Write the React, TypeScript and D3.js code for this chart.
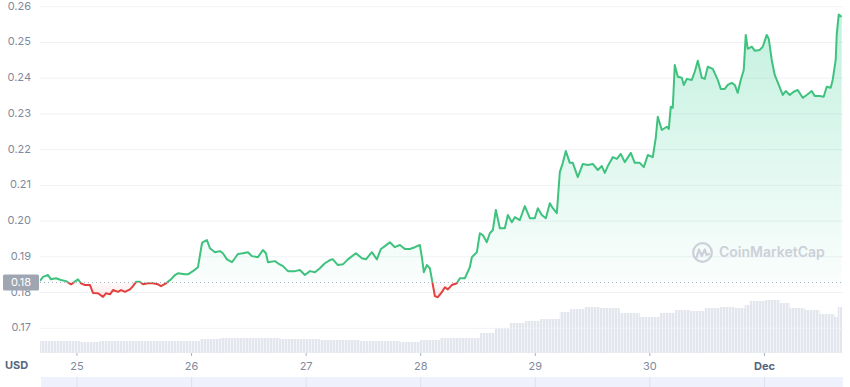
import React, { useEffect, useRef } from 'react';
import * as d3 from 'd3';

// hours since Nov 24 00:00 UTC
const priceHours = [
  16.25, 16.88, 17.93, 18.56, 19.6, 20.65, 21.7, 22.75, 24.21, 24.84, 25.68, 26.72, 27.35, 28.4, 29.44, 30.07,
  30.91, 31.54, 32.59, 33.21, 34.05, 35.1, 35.73, 36.35, 37.19, 37.82, 38.87, 39.91, 40.96, 41.59, 42.64, 43.68,
  44.52, 45.15, 46.61, 47.24, 48.29, 49.34, 50.18, 50.38, 51.22, 51.85, 52.9, 53.94, 54.57, 55.41, 56.46, 57.08,
  57.71, 58.76, 59.81, 60.64, 61.9, 62.95, 63.58, 64.0, 65.46, 66.09, 67.14, 68.18, 69.65, 70.7, 71.74, 72.79,
  73.84, 74.88, 75.93, 76.98, 77.61, 78.65, 79.7, 80.75, 82.42, 83.68, 84.52, 85.77, 86.82, 87.66, 88.5, 89.54,
  90.59, 91.64, 92.68, 93.73, 94.78, 95.82, 96.24, 96.66, 97.29, 97.92, 98.55, 98.97, 99.59, 100.43, 101.06, 101.69,
  102.52, 103.57, 104.2, 105.25, 106.29, 106.71, 107.76, 108.39, 109.02, 109.85, 110.48, 111.11, 111.74, 112.58, 113.62, 114.25,
  115.09, 115.72, 116.76, 117.81, 118.86, 119.9, 120.53, 121.37, 122.21, 123.05, 123.67, 124.51, 125.14, 125.77, 126.4, 127.23,
  127.86, 128.91, 129.96, 131.0, 132.05, 133.1, 133.94, 134.56, 135.19, 136.24, 137.08, 137.91, 138.75, 140.01, 140.85, 141.89,
  142.73, 143.57, 144.61, 145.24, 145.66, 146.5, 147.55, 147.97, 148.38, 148.8, 149.22, 149.85, 150.69, 151.11, 151.74, 152.78,
  153.41, 154.04, 154.88, 155.51, 156.13, 157.18, 158.23, 158.86, 159.69, 160.32, 161.16, 161.79, 162.41, 163.04, 163.67, 164.09,
  164.51, 165.35, 165.97, 167.02, 167.65, 168.49, 168.91, 169.53, 170.16, 171.0, 171.84, 172.47, 173.3, 174.14, 174.98, 176.02,
  176.86, 177.91, 178.54, 179.58, 180.42, 181.05, 181.88, 182.3, 182.93, 183.14, 183.56, 184.19,
];
const prices = [
  0.1833, 0.1844, 0.1849, 0.1837, 0.184, 0.1835, 0.1832, 0.1823, 0.1837, 0.1826, 0.1821, 0.1821, 0.1799, 0.1798, 0.1788, 0.1798,
  0.1795, 0.1807, 0.1802, 0.1807, 0.1802, 0.1809, 0.1818, 0.183, 0.183, 0.1823, 0.1826, 0.1826, 0.1823, 0.1818, 0.1826, 0.1837,
  0.1849, 0.1854, 0.1851, 0.1851, 0.186, 0.1871, 0.1938, 0.1941, 0.1947, 0.1924, 0.1913, 0.1916, 0.191, 0.1893, 0.1885, 0.1896,
  0.1908, 0.191, 0.1913, 0.1902, 0.1899, 0.1919, 0.191, 0.1885, 0.1888, 0.1882, 0.1874, 0.186, 0.186, 0.1863, 0.1849, 0.186,
  0.1857, 0.1868, 0.1882, 0.1891, 0.1893, 0.1877, 0.1879, 0.1893, 0.191, 0.1896, 0.1893, 0.1913, 0.1893, 0.1922, 0.193, 0.1941,
  0.1927, 0.1933, 0.1922, 0.1922, 0.1927, 0.1933, 0.1899, 0.1857, 0.1877, 0.1868, 0.1821, 0.179, 0.1787, 0.1801, 0.1815, 0.1809,
  0.1821, 0.1826, 0.184, 0.184, 0.1871, 0.1899, 0.1913, 0.1966, 0.1961, 0.1941, 0.1966, 0.1975, 0.2031, 0.198, 0.198, 0.2017,
  0.1997, 0.2011, 0.2003, 0.2042, 0.2008, 0.2008, 0.2036, 0.2017, 0.2008, 0.205, 0.2036, 0.2022, 0.2137, 0.2163, 0.2196, 0.2163,
  0.2163, 0.2123, 0.216, 0.2157, 0.216, 0.2143, 0.2154, 0.2135, 0.2154, 0.2179, 0.2174, 0.2188, 0.2165, 0.2191, 0.2163, 0.2163,
  0.2151, 0.2185, 0.2179, 0.2233, 0.2292, 0.2255, 0.2264, 0.2258, 0.232, 0.2317, 0.2437, 0.2404, 0.2401, 0.2381, 0.2398, 0.2395,
  0.2418, 0.2449, 0.2401, 0.2398, 0.2432, 0.2426, 0.2395, 0.237, 0.237, 0.2381, 0.2387, 0.2381, 0.2359, 0.2395, 0.2423, 0.2521,
  0.2482, 0.2488, 0.2477, 0.2479, 0.2488, 0.2521, 0.251, 0.2451, 0.2409, 0.2381, 0.2353, 0.2364, 0.2353, 0.2362, 0.2367, 0.2345,
  0.2353, 0.2364, 0.235, 0.235, 0.2348, 0.2376, 0.2373, 0.2395, 0.2451, 0.2521, 0.2578, 0.2572,
];

// 24h volume samples, USD millions
const volumeHours = [
  16.25, 20.44, 24.63, 28.82, 33.0, 37.19, 41.38, 45.57, 49.76, 53.94, 58.13, 62.32, 66.51, 70.7, 74.88, 79.07,
  83.26, 87.45, 91.64, 95.82, 100.01, 104.2, 106.29, 108.39, 111.53, 114.67, 117.81, 120.96, 124.1, 125.14, 127.23, 130.37,
  133.52, 137.7, 141.89, 145.03, 146.08, 149.22, 152.36, 155.5, 158.64, 161.79, 163.88, 164.93, 168.07, 171.21, 173.3, 176.45,
  179.59, 182.73, 183.35, 184.25,
];
const volumes = [
  18, 18, 16.5, 18, 18, 18, 18, 18, 21, 22.5, 22.5, 22.5, 21, 21, 19.5, 19.5,
  18, 18, 16.5, 19.5, 22.5, 22.5, 22.5, 30, 37.5, 45, 48, 51, 51, 61.5, 66, 69,
  67.5, 60, 54, 54, 60, 64.5, 63, 67.5, 69, 67.5, 72, 78, 79.5, 75, 67.5, 64.5,
  58.5, 54, 69, 69,
];

const yTicks = [0.17, 0.18, 0.19, 0.2, 0.21, 0.22, 0.23, 0.24, 0.25, 0.26];
const dayTickHours = [24, 48, 72, 96, 120, 144, 168];
const dayTickLabels = ['25', '26', '27', '28', '29', '30', 'Dec'];
const baselinePrice = 0.1828;
const startHour = 16.25;
const endHour = 184.25;

const toDate = (h: number) => new Date(Date.UTC(2021, 10, 24) + h * 3600 * 1000);

const App = () => {
  const svgRef = useRef<SVGSVGElement>(null);

  useEffect(() => {
    const svg = d3.select(svgRef.current);
    svg.selectAll('*').remove();

    const left = 40;
    const right = 843;
    const font = 'Inter, "Noto Sans", sans-serif';
    const green = '#3ec27e';
    const red = '#e2403f';

    const x = d3.scaleUtc()
      .domain([toDate(startHour), toDate(endHour)])
      .range([left, 842]);

    const y = d3.scaleLinear()
      .domain([0.17, 0.26])
      .range([328.3, 6.7]);

    const yVol = d3.scaleLinear()
      .domain([0, d3.max(volumes) as number])
      .range([353, 300]);

    const baseY = y(baselinePrice);
    const data = priceHours.map((h, i) => ({ t: toDate(h), v: prices[i] }));
    const volData = volumeHours.map((h, i) => ({ t: toDate(h), v: volumes[i] }));

    const defs = svg.append('defs');

    // volume bars look: thin stripes
    const pat = defs.append('pattern')
      .attr('id', 'volStripes')
      .attr('patternUnits', 'userSpaceOnUse')
      .attr('width', 3)
      .attr('height', 10);
    pat.append('rect').attr('width', 3).attr('height', 10).attr('fill', '#f3f4f8');
    pat.append('rect').attr('width', 2).attr('height', 10).attr('fill', '#e4e6ee');

    const gGreen = defs.append('linearGradient')
      .attr('id', 'greenFill')
      .attr('gradientUnits', 'userSpaceOnUse')
      .attr('x1', 0).attr('x2', 0)
      .attr('y1', y(d3.max(prices) as number)).attr('y2', baseY);
    gGreen.append('stop').attr('offset', '0%').attr('stop-color', '#16c784').attr('stop-opacity', 0.26);
    gGreen.append('stop').attr('offset', '100%').attr('stop-color', '#16c784').attr('stop-opacity', 0.02);

    const gRed = defs.append('linearGradient')
      .attr('id', 'redFill')
      .attr('gradientUnits', 'userSpaceOnUse')
      .attr('x1', 0).attr('x2', 0)
      .attr('y1', baseY).attr('y2', y(d3.min(prices) as number));
    gRed.append('stop').attr('offset', '0%').attr('stop-color', '#ea3943').attr('stop-opacity', 0.02);
    gRed.append('stop').attr('offset', '100%').attr('stop-color', '#ea3943').attr('stop-opacity', 0.12);

    defs.append('clipPath').attr('id', 'aboveBase')
      .append('rect').attr('x', left).attr('y', 0).attr('width', right - left).attr('height', baseY);
    defs.append('clipPath').attr('id', 'belowBase')
      .append('rect').attr('x', left).attr('y', baseY).attr('width', right - left).attr('height', 387 - baseY);

    // Volume
    const volArea = d3.area<{ t: Date; v: number }>()
      .curve(d3.curveStepAfter)
      .x(d => x(d.t))
      .y0(353)
      .y1(d => yVol(d.v));

    svg.append('path')
      .datum(volData)
      .attr('fill', 'url(#volStripes)')
      .attr('d', volArea);

    // Grid lines
    svg.append('g')
      .selectAll('line')
      .data(yTicks)
      .enter().append('line')
      .attr('x1', left)
      .attr('x2', right)
      .attr('y1', d => y(d))
      .attr('y2', d => y(d))
      .attr('stroke', '#eff2f5')
      .attr('stroke-width', 1);

    // Area fills
    const area = d3.area<{ t: Date; v: number }>()
      .x(d => x(d.t))
      .y0(baseY)
      .y1(d => y(d.v));

    svg.append('path').datum(data)
      .attr('fill', 'url(#greenFill)')
      .attr('clip-path', 'url(#aboveBase)')
      .attr('d', area);
    svg.append('path').datum(data)
      .attr('fill', 'url(#redFill)')
      .attr('clip-path', 'url(#belowBase)')
      .attr('d', area);

    // Baseline dotted
    svg.append('line')
      .attr('x1', left)
      .attr('x2', right)
      .attr('y1', baseY)
      .attr('y2', baseY)
      .attr('stroke', '#a6b0c3')
      .attr('stroke-width', 1)
      .attr('stroke-dasharray', '1,3');

    // Price line
    const line = d3.line<{ t: Date; v: number }>()
      .x(d => x(d.t))
      .y(d => y(d.v));

    svg.append('path').datum(data)
      .attr('fill', 'none')
      .attr('stroke', green)
      .attr('stroke-width', 2)
      .attr('stroke-linejoin', 'round')
      .attr('clip-path', 'url(#aboveBase)')
      .attr('d', line);
    svg.append('path').datum(data)
      .attr('fill', 'none')
      .attr('stroke', red)
      .attr('stroke-width', 2)
      .attr('stroke-linejoin', 'round')
      .attr('clip-path', 'url(#belowBase)')
      .attr('d', line);

    // Watermark
    const wm = svg.append('g').attr('opacity', 0.9);
    wm.append('circle')
      .attr('cx', 702.5).attr('cy', 252.5).attr('r', 9.3)
      .attr('fill', 'none')
      .attr('stroke', '#c7ccd6')
      .attr('stroke-width', 2.2);
    wm.append('path')
      .attr('d', 'M696.5,257.5 L699,249.5 L701.8,256 L704.8,249.5 L706.5,255 L709,254')
      .attr('fill', 'none')
      .attr('stroke', '#c7ccd6')
      .attr('stroke-width', 2.2)
      .attr('stroke-linejoin', 'round')
      .attr('stroke-linecap', 'round');
    wm.append('text')
      .attr('x', 719)
      .attr('y', 253.5)
      .attr('dominant-baseline', 'middle')
      .attr('font-family', font)
      .attr('font-size', 14)
      .attr('font-weight', 600)
      .attr('fill', '#c7ccd6')
      .text('CoinMarketCap');

    // Y axis labels
    svg.append('g')
      .selectAll('text')
      .data(yTicks)
      .enter().append('text')
      .attr('x', 31)
      .attr('y', d => y(d))
      .attr('text-anchor', 'end')
      .attr('dominant-baseline', 'middle')
      .attr('font-family', font)
      .attr('font-size', 11)
      .attr('fill', '#808a9d')
      .text(d => d.toFixed(2));

    // Baseline label box
    svg.append('rect')
      .attr('x', 3)
      .attr('y', baseY - 8)
      .attr('width', 36)
      .attr('height', 16)
      .attr('rx', 1.5)
      .attr('fill', '#a0a6b1');
    svg.append('text')
      .attr('x', 21)
      .attr('y', baseY)
      .attr('text-anchor', 'middle')
      .attr('dominant-baseline', 'middle')
      .attr('font-family', font)
      .attr('font-size', 11)
      .attr('fill', '#ffffff')
      .text(baselinePrice.toFixed(2));

    // X axis
    const xt = svg.append('g');
    dayTickHours.forEach((h, i) => {
      const px = x(toDate(h));
      xt.append('line')
        .attr('x1', px).attr('x2', px)
        .attr('y1', 353).attr('y2', 356)
        .attr('stroke', '#a6b0c3');
      xt.append('text')
        .attr('x', px)
        .attr('y', 367)
        .attr('text-anchor', 'middle')
        .attr('dominant-baseline', 'middle')
        .attr('font-family', font)
        .attr('font-size', 11)
        .attr('font-weight', dayTickLabels[i] === 'Dec' ? 700 : 400)
        .attr('fill', dayTickLabels[i] === 'Dec' ? '#58667e' : '#808a9d')
        .text(dayTickLabels[i]);
    });

    svg.append('text')
      .attr('x', 5)
      .attr('y', 366)
      .attr('dominant-baseline', 'middle')
      .attr('font-family', font)
      .attr('font-size', 11)
      .attr('font-weight', 700)
      .attr('fill', '#58667e')
      .text('USD');

    // Navigator strip
    svg.append('rect')
      .attr('x', 41)
      .attr('y', 377)
      .attr('width', right - 41)
      .attr('height', 10)
      .attr('fill', '#eff1fc');
    svg.append('g')
      .selectAll('line')
      .data(dayTickHours)
      .enter().append('line')
      .attr('x1', d => x(toDate(d)))
      .attr('x2', d => x(toDate(d)))
      .attr('y1', 377)
      .attr('y2', 387)
      .attr('stroke', '#dde1f3');
  }, []);

  return (
    <svg
      ref={svgRef}
      width="850"
      height="387"
      style={{ position: 'absolute', left: 0, top: 0, background: '#fff' }}
    />
  );
};

export default App;
